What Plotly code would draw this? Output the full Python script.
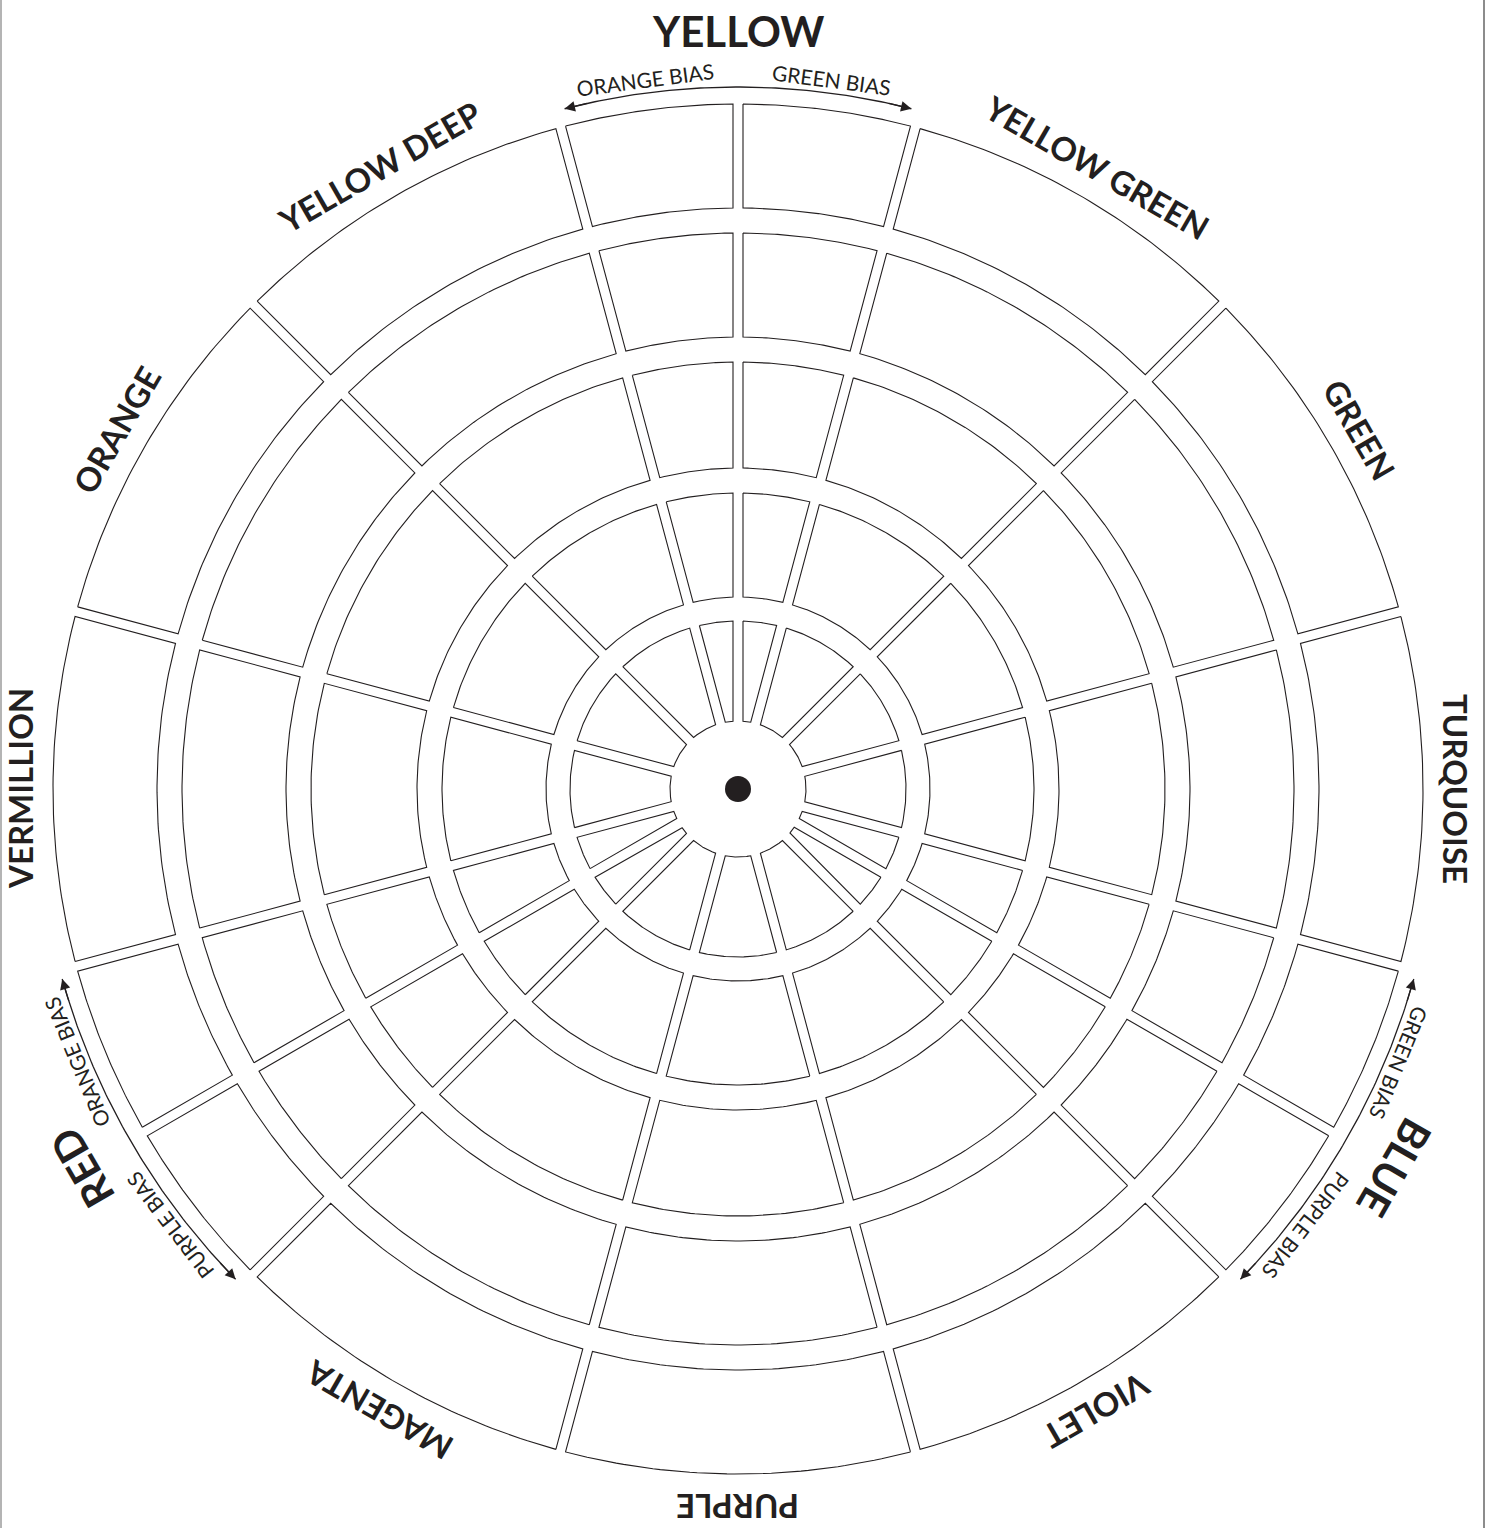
import numpy as np
import plotly.graph_objects as go

# ---------------- data ----------------
hues = ["YELLOW", "YELLOW GREEN", "GREEN", "TURQUOISE", "BLUE", "VIOLET",
        "PURPLE", "MAGENTA", "RED", "VERMILLION", "ORANGE", "YELLOW DEEP"]
hue_angles = [0, 30, 60, 90, 120, 150, 180, 210, 240, 270, 300, 330]   # clockwise from top
primaries = ["YELLOW", "BLUE", "RED"]                                   # split into two bias halves
bias_low = {"YELLOW": "ORANGE BIAS", "BLUE": "GREEN BIAS", "RED": "PURPLE BIAS"}
bias_high = {"YELLOW": "GREEN BIAS", "BLUE": "PURPLE BIAS", "RED": "ORANGE BIAS"}
n_rings = 5

# ---------------- geometry / style ----------------
W, H = 1494, 1528
CX, CY = 738, 789                 # pixel position of the wheel centre
RING_OUT = [685, 556, 427, 296, 168]
RING_IN = [581, 452, 321, 192, 68]
GAP = 10                          # width of the white channels between cells
HUE_SPAN = 30
LABEL_R = 718
BIG_LABEL_R = 758
BIAS_R = 716
ARC_R = 702
ARC_HALF = 14.3
INK = "#231f20"
FONT = "Lato, 'Open Sans', sans-serif"


def pol(r, a_deg):
    a = np.radians(a_deg)
    return r * np.sin(a), r * np.cos(a)


def cell(a1, a2, rin, rout, n=48):
    h = GAP / 2
    do = np.degrees(np.arcsin(h / rout))
    di = np.degrees(np.arcsin(h / rin))
    outer = np.linspace(a1 + do, a2 - do, n)
    inner = np.linspace(a2 - di, a1 + di, n)
    xo, yo = pol(rout, outer)
    xi, yi = pol(rin, inner)
    xs = np.concatenate([xo, xi, xo[:1]])
    ys = np.concatenate([yo, yi, yo[:1]])
    return list(xs), list(ys)


# angular boundaries of every cell
segments = []
for name, c in zip(hues, hue_angles):
    lo, hi = c - HUE_SPAN / 2, c + HUE_SPAN / 2
    if name in primaries:
        segments.append((lo, c))
        segments.append((c, hi))
    else:
        segments.append((lo, hi))

fig = go.Figure()

for k in range(n_rings):
    X, Y = [], []
    for a1, a2 in segments:
        xs, ys = cell(a1, a2, RING_IN[k], RING_OUT[k])
        X += xs + [None]
        Y += ys + [None]
    fig.add_trace(go.Scatter(x=X, y=Y, mode="lines", fill="toself",
                             fillcolor="white", line=dict(color=INK, width=1.1),
                             hoverinfo="skip", showlegend=False))

# centre dot
fig.add_trace(go.Scatter(x=[0], y=[0], mode="markers",
                         marker=dict(size=26, color=INK), hoverinfo="skip",
                         showlegend=False))

annotations = []


def textangle(theta):
    t = theta % 360
    return t if t <= 180 else t - 360


# hue labels
for name, c in zip(hues, hue_angles):
    big = name in primaries
    r = BIG_LABEL_R if big else LABEL_R
    x, y = pol(r, c)
    annotations.append(dict(x=x, y=y, text="<b>%s</b>" % name, showarrow=False,
                            textangle=textangle(c), xanchor="center", yanchor="middle",
                            font=dict(family=FONT, size=42 if big else 33, color=INK)))

# bias arcs, arrows and labels
for name, c in zip(hues, hue_angles):
    if name not in primaries:
        continue
    t = np.linspace(c - ARC_HALF, c + ARC_HALF, 80)
    ax_, ay_ = pol(ARC_R, t)
    fig.add_trace(go.Scatter(x=ax_, y=ay_, mode="lines",
                             line=dict(color=INK, width=1.3),
                             hoverinfo="skip", showlegend=False))
    for sgn in (-1, 1):
        tip = pol(ARC_R, c + sgn * ARC_HALF)
        tail = pol(ARC_R, c + sgn * (ARC_HALF - 2.0))
        annotations.append(dict(x=tip[0], y=tip[1], ax=tail[0], ay=tail[1],
                                axref="x", ayref="y", xref="x", yref="y",
                                text="", showarrow=True, arrowhead=2,
                                arrowsize=1.6, arrowwidth=1.3, arrowcolor=INK,
                                standoff=0, startstandoff=0))
    for label, off in ((bias_low[name], -7.5), (bias_high[name], 7.5)):
        ang = c + off
        x, y = pol(BIAS_R, ang)
        annotations.append(dict(x=x, y=y, text=label, showarrow=False,
                                textangle=textangle(ang), xanchor="center",
                                yanchor="middle",
                                font=dict(family=FONT, size=21, color=INK)))

fig.update_layout(
    width=W, height=H,
    margin=dict(l=0, r=0, t=0, b=0),
    paper_bgcolor="white", plot_bgcolor="white",
    xaxis=dict(range=[-CX, W - CX], visible=False, fixedrange=True),
    yaxis=dict(range=[CY - H, CY], visible=False, fixedrange=True),
    annotations=annotations,
    shapes=[
        dict(type="line", xref="paper", yref="paper", x0=1 / W, x1=1 / W, y0=0, y1=1,
             line=dict(color="#b4b4b4", width=2)),
        dict(type="line", xref="paper", yref="paper", x0=1484 / W, x1=1484 / W, y0=0, y1=1,
             line=dict(color="#8c8c8c", width=2)),
    ],
)

fig.write_html("out.html", config={"displayModeBar": False},
               post_script="document.body.style.margin='0';document.body.style.padding='0';"
                           "document.body.style.overflow='hidden';")
